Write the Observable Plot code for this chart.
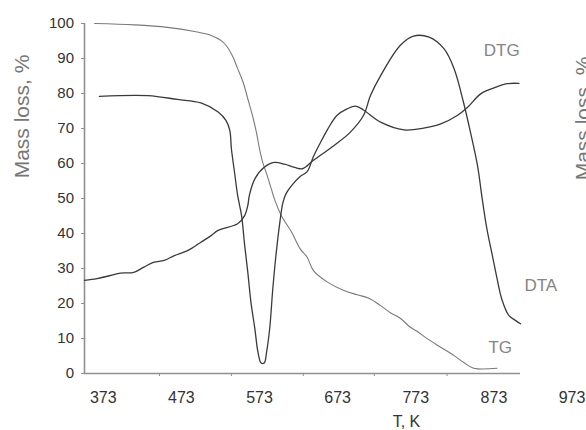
<!DOCTYPE html>
<html>
<head>
<meta charset="utf-8">
<script src="https://cdn.jsdelivr.net/npm/d3@7"></script>
<script src="https://cdn.jsdelivr.net/npm/@observablehq/plot@0.6"></script>
<style>
  html, body { margin: 0; padding: 0; background: #fff; }
  #chart svg { display: block; }
</style>
</head>
<body>
<div id="chart"></div>
<script>
// ---- Data (temperature in K, value in %) ----
const tgT = [362, 413, 455, 490, 511, 524, 532, 539, 545, 552, 558, 564, 569, 573, 577, 582, 588, 592, 601, 614, 625, 634, 642, 660, 681, 698, 713, 728, 741, 753, 766, 775, 788, 805, 822, 834, 847, 877];
const tgV = [100, 99.6, 98.9, 97.7, 96.6, 95.1, 93.2, 90.4, 87.1, 83.2, 78.5, 73.7, 68.9, 64.2, 60.4, 57.1, 52.8, 49.9, 45.1, 40.4, 35.6, 33.2, 29.4, 26.1, 23.7, 22.5, 21.5, 19.4, 17.3, 15.8, 13.2, 12.0, 9.9, 7.5, 5.1, 3.2, 1.5, 1.5];

const dtgT = [368, 430, 468, 498, 520, 530, 535, 537, 541, 545, 550, 554, 558, 562, 567, 571, 575, 579, 582, 586, 590, 594, 599, 603, 607, 614, 625, 634, 642, 651, 660, 672, 685, 696, 706, 728, 758, 783, 805, 826, 839, 856, 873, 890, 905];
const dtgV = [79.2, 79.4, 78.3, 77.3, 74.7, 72.3, 69.4, 64.2, 57.5, 50.9, 45.1, 36.6, 28.9, 20.4, 12.8, 6.1, 3.0, 3.0, 6.1, 12.8, 24.2, 33.7, 43.2, 48.9, 51.4, 53.7, 56.3, 57.7, 62, 66, 69.7, 73.7, 75.6, 76.4, 75.3, 71.8, 69.6, 70.1, 71.3, 73.7, 76, 79.9, 81.6, 82.8, 82.9];

const dtaT = [349, 365, 382, 395, 412, 425, 438, 451, 464, 481, 498, 511, 520, 545, 554, 558, 560, 567, 579, 592, 605, 618, 628, 642, 668, 689, 706, 715, 728, 753, 770, 790, 809, 822, 834, 843, 852, 858, 864, 871, 877, 883, 892, 901, 907];
const dtaV = [26.6, 27.1, 28.0, 28.7, 28.9, 30.4, 31.8, 32.3, 33.7, 35.1, 37.5, 39.4, 40.9, 42.8, 45.1, 48, 50.9, 55.6, 58.9, 60.3, 59.8, 58.9, 58.5, 60.9, 65.1, 68.9, 73.7, 79.4, 85.1, 93.7, 96.4, 96.1, 92.8, 87.1, 77.5, 68.9, 59.4, 49.9, 41.3, 33.7, 27.1, 21.3, 16.6, 15.1, 14.2];

const xDomain = [349, 907];
const xTickLabels = [373, 473, 573, 673, 773, 873, 973];
const xTickMarks = [445, 537, 629, 720, 813];
const yTicks = [0, 10, 20, 30, 40, 50, 60, 70, 80, 90, 100];

const seriesNames = ["DTG", "DTA", "TG"];
const labelT = [883, 933, 881];
const labelV = [92.3, 25.1, 7.4];

const yTitle = "Mass loss, %";
const xTitle = "T, K";

// ---- Build tables ----
const toRows = (T, V) => T.map((t, i) => ({t, v: V[i]}));
const tg = toRows(tgT, tgV);
const dtg = toRows(dtgT, dtgV);
const dta = toRows(dtaT, dtaV);
const labels = seriesNames.map((name, i) => ({name, t: labelT[i], v: labelV[i]}));

const font = "'Liberation Sans', Arial, Helvetica, sans-serif";

const chart = Plot.plot({
  width: 586,
  height: 430,
  marginLeft: 84,
  marginRight: 66,
  marginTop: 23,
  marginBottom: 57,
  style: {fontFamily: font, background: "#fff", color: "#333", overflow: "visible"},
  x: {domain: xDomain},
  y: {domain: [0, 100]},
  marks: [
    // axis lines
    Plot.ruleX([xDomain[0]], {stroke: "#909090", strokeWidth: 1.6}),
    Plot.ruleY([0], {stroke: "#909090", strokeWidth: 1.6}),
    // y axis
    Plot.axisY({ticks: yTicks, tickSize: 3, tickPadding: 7.5, fontSize: 15, stroke: "#909090", fill: "#333", label: null}),
    // x tick marks
    Plot.axisX({ticks: xTickMarks, tickSize: 3, tickFormat: () => "", stroke: "#909090", label: null}),
    // x tick labels
    Plot.axisX({ticks: xTickLabels, tickSize: 0, tickPadding: 18.5, fontSize: 16, fill: "#333", label: null, tickFormat: d => String(d)}),
    // curves
    Plot.line(tg, {x: "t", y: "v", stroke: "#7a7a7a", strokeWidth: 1.1, curve: "catmull-rom"}),
    Plot.line(dta, {x: "t", y: "v", stroke: "#3a3a3a", strokeWidth: 1.3, curve: "catmull-rom"}),
    Plot.line(dtg, {x: "t", y: "v", stroke: "#3a3a3a", strokeWidth: 1.3, curve: "catmull-rom"}),
    // series labels
    Plot.text(labels, {x: "t", y: "v", text: "name", fontSize: 17, fill: "#858585"}),
    // titles
    Plot.text([yTitle], {frameAnchor: "left", textAnchor: "middle", rotate: -90, dx: -62.5, dy: -82, fontSize: 21, fill: "#777"}),
    Plot.text([yTitle], {frameAnchor: "right", textAnchor: "middle", rotate: -90, dx: 62.5, dy: -80, fontSize: 21, fill: "#777"}),
    Plot.text([xTitle], {frameAnchor: "bottom", textAnchor: "middle", dx: 104, dy: 53, fontSize: 16, fill: "#333"})
  ]
});

document.getElementById("chart").appendChild(chart);
</script>
</body>
</html>
